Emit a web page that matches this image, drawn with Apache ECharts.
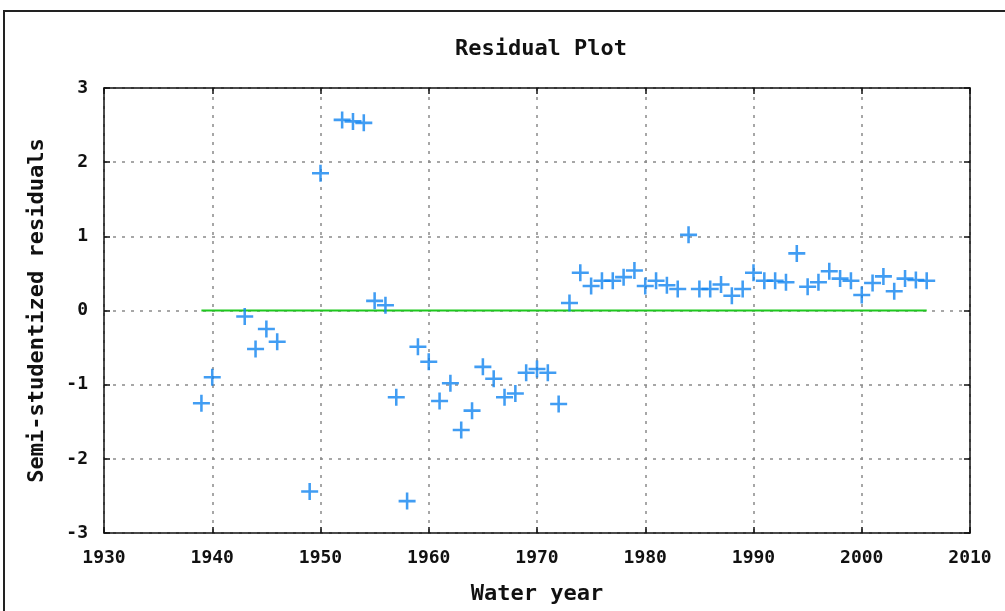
<!DOCTYPE html>
<html>
<head>
<meta charset="utf-8">
<script src="https://cdn.jsdelivr.net/npm/echarts@6/dist/echarts.min.js"></script>
<style>
  html, body { margin: 0; padding: 0; background: #fff; }
  #main { position: absolute; left: 0; top: 0; width: 1005px; height: 611px; }
  #frame { position: absolute; left: 3px; top: 10px; width: 1010px; height: 610px;
           border-left: 2px solid #222; border-top: 2px solid #222; pointer-events: none; }
</style>
</head>
<body>
<div id="main"></div>
<div id="frame"></div>
<script>
// water years that have a residual
var years = [1939, 1940, 1943, 1944, 1945, 1946, 1949, 1950, 1952, 1953, 1954, 1955, 1956,
  1957, 1958, 1959, 1960, 1961, 1962, 1963, 1964, 1965, 1966, 1967, 1968, 1969, 1970, 1971,
  1972, 1973, 1974, 1975, 1976, 1977, 1978, 1979, 1980, 1981, 1982, 1983, 1984, 1985, 1986,
  1987, 1988, 1989, 1990, 1991, 1992, 1993, 1994, 1995, 1996, 1997, 1998, 1999, 2000, 2001,
  2002, 2003, 2004, 2005, 2006];
// semi-studentized residuals
var residuals = [-1.25, -0.9, -0.08, -0.52, -0.25, -0.42, -2.44, 1.85, 2.57, 2.55, 2.53, 0.13, 0.07,
  -1.17, -2.57, -0.49, -0.69, -1.22, -0.98, -1.61, -1.35, -0.76, -0.92, -1.17, -1.12, -0.84, -0.79, -0.84,
  -1.26, 0.1, 0.51, 0.33, 0.4, 0.4, 0.45, 0.54, 0.33, 0.4, 0.34, 0.29, 1.02, 0.29, 0.29,
  0.35, 0.2, 0.29, 0.51, 0.4, 0.4, 0.38, 0.77, 0.32, 0.38, 0.53, 0.43, 0.4, 0.21, 0.37,
  0.46, 0.26, 0.43, 0.41, 0.4];
// zero reference line endpoints
var zeroLine = [[1939, 0], [2006, 0]];

var points = years.map(function (y, i) { return [y, residuals[i]]; });

var font = 'DejaVu Sans Mono';
var tickFont = { fontFamily: font, fontWeight: 'bold', fontSize: 18, color: '#111' };
var nameFont = { fontFamily: font, fontWeight: 'bold', fontSize: 22, color: '#111' };
var plus = 'path://M6.8,0H9.2V16H6.8ZM0,6.8H16V9.2H0Z';
var gridLine = { show: true, lineStyle: { color: '#8a8a8a', type: [3, 6], width: 1.5 } };

var chart = echarts.init(document.getElementById('main'), null, { renderer: 'canvas' });

function frameAxis(extra) {
  return Object.assign({
    type: 'value',
    axisLine: { show: true, onZero: false, lineStyle: { color: '#111', width: 1.5 } },
    axisTick: { show: true, inside: true, length: 6, lineStyle: { color: '#111', width: 1.5 } },
    splitLine: { show: false },
    axisLabel: { show: false }
  }, extra);
}

chart.setOption({
  animation: false,
  backgroundColor: '#fff',
  title: {
    text: 'Residual Plot',
    left: 536, top: 33, textAlign: 'center',
    textStyle: nameFont
  },
  grid: { left: 104, right: 35, top: 88, bottom: 78 },
  xAxis: [
    frameAxis({
      min: 1930, max: 2010, interval: 10,
      name: 'Water year', nameLocation: 'middle', nameGap: 50, nameTextStyle: nameFont,
      axisLabel: Object.assign({ show: true, margin: 16, formatter: function (v) { return String(v); } }, tickFont),
      splitLine: gridLine
    }),
    frameAxis({ position: 'top', min: 1930, max: 2010, interval: 10 })
  ],
  yAxis: [
    frameAxis({
      min: -3, max: 3, interval: 1,
      name: 'Semi-studentized residuals', nameLocation: 'middle', nameGap: 56, nameTextStyle: nameFont,
      axisLabel: Object.assign({ show: true, margin: 16 }, tickFont),
      splitLine: gridLine
    }),
    frameAxis({ position: 'right', min: -3, max: 3, interval: 1 })
  ],
  series: [
    {
      type: 'line',
      data: zeroLine,
      symbol: 'none',
      lineStyle: { color: '#1ec81e', width: 2 },
      z: 2
    },
    {
      type: 'scatter',
      data: points,
      symbol: plus,
      symbolSize: 17,
      itemStyle: { color: '#1284f0' },
      z: 3
    }
  ]
});
</script>
</body>
</html>
